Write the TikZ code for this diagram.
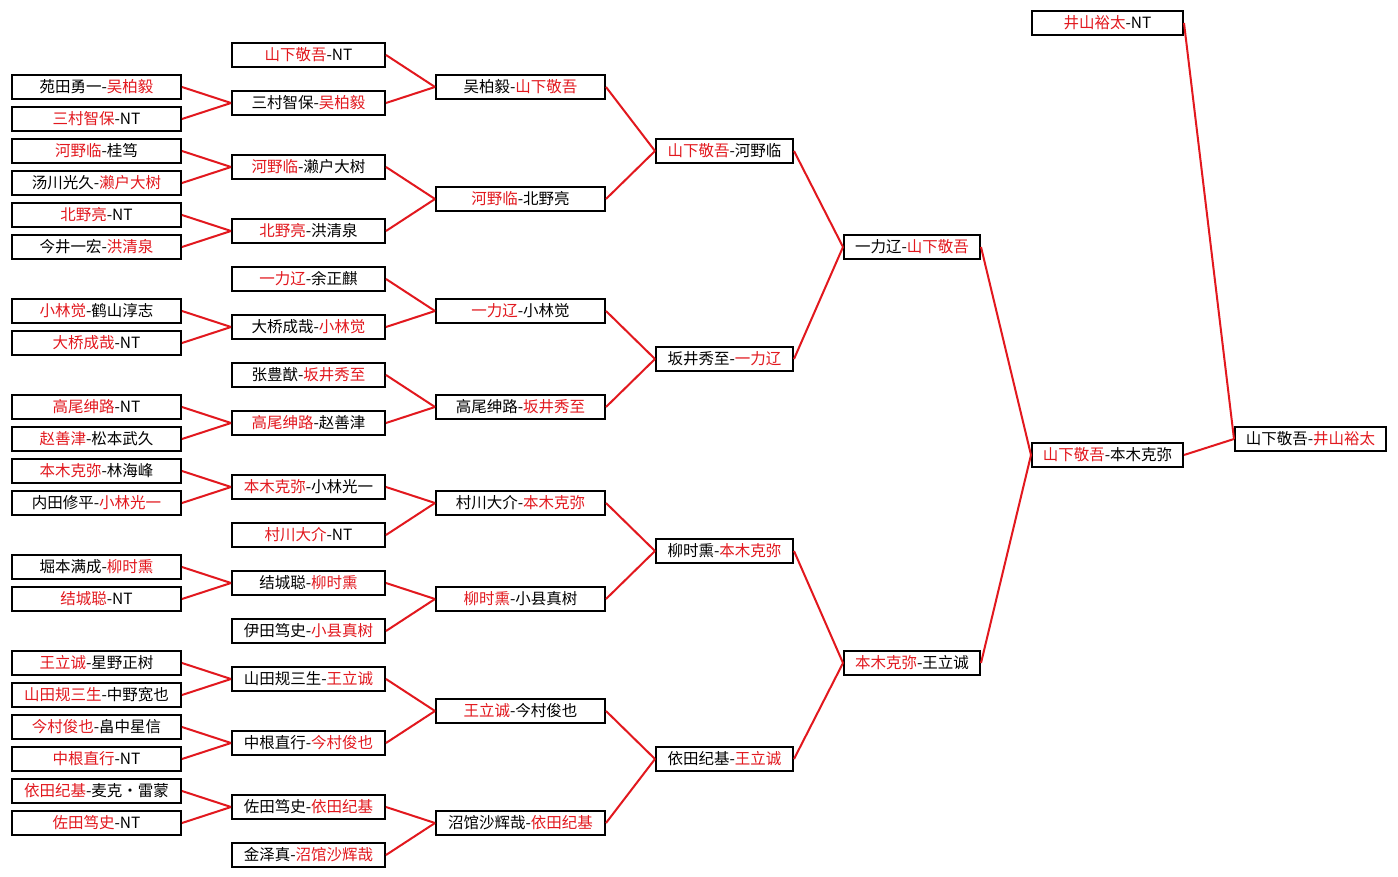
\documentclass[tikz,border=0pt]{standalone}
\usepackage{fontspec}
\setmainfont{Noto Sans CJK SC}
\usepackage{xcolor}
\usepackage{tikz}
\usetikzlibrary{positioning}
\definecolor{winred}{RGB}{226,24,30}
\newcommand{\win}[1]{\textcolor{winred}{#1}}
\tikzset{player node/.style={rectangle,draw,fill=white,minimum height=23.5pt,inner sep=0pt,line width=2pt,font=\fontsize{15.5}{17}\selectfont}}

\begin{document}
\begin{tikzpicture}[x=1pt,y=-1pt]
    \useasboundingbox[fill=white] (0,0) rectangle (1398,877);

    	% first round
    	\node[player node,minimum width=169pt] (a_{1}) at (96.5,87) {苑田勇一-\win{吴柏毅}};
    	\node[player node,minimum width=169pt] (a_{2}) at (96.5,119) {\win{三村智保}-NT};
    	\node[player node,minimum width=169pt] (a_{3}) at (96.5,151) {\win{河野临}-桂笃};
    	\node[player node,minimum width=169pt] (a_{4}) at (96.5,183) {汤川光久-\win{濑户大树}};
    	\node[player node,minimum width=169pt] (a_{5}) at (96.5,215) {\win{北野亮}-NT};
    	\node[player node,minimum width=169pt] (a_{6}) at (96.5,247) {今井一宏-\win{洪清泉}};
    	\node[player node,minimum width=169pt] (a_{7}) at (96.5,311) {\win{小林觉}-鹤山淳志};
    	\node[player node,minimum width=169pt] (a_{8}) at (96.5,343) {\win{大桥成哉}-NT};
    	\node[player node,minimum width=169pt] (a_{9}) at (96.5,407) {\win{高尾绅路}-NT};
    	\node[player node,minimum width=169pt] (a_{10}) at (96.5,439) {\win{赵善津}-松本武久};
    	\node[player node,minimum width=169pt] (a_{11}) at (96.5,471) {\win{本木克弥}-林海峰};
    	\node[player node,minimum width=169pt] (a_{12}) at (96.5,503) {内田修平-\win{小林光一}};
    	\node[player node,minimum width=169pt] (a_{13}) at (96.5,567) {堀本满成-\win{柳时熏}};
    	\node[player node,minimum width=169pt] (a_{14}) at (96.5,599) {\win{结城聪}-NT};
    	\node[player node,minimum width=169pt] (a_{15}) at (96.5,663) {\win{王立诚}-星野正树};
    	\node[player node,minimum width=169pt] (a_{16}) at (96.5,695) {\win{山田规三生}-中野宽也};
    	\node[player node,minimum width=169pt] (a_{17}) at (96.5,727) {\win{今村俊也}-畠中星信};
    	\node[player node,minimum width=169pt] (a_{18}) at (96.5,759) {\win{中根直行}-NT};
    	\node[player node,minimum width=169pt] (a_{19}) at (96.5,791) {\win{依田纪基}-麦克・雷蒙};
    	\node[player node,minimum width=169pt] (a_{20}) at (96.5,823) {\win{佐田笃史}-NT};

    	% second round
    	\node[player node,minimum width=153pt] (b_{1}) at (308.5,55) {\win{山下敬吾}-NT};
    	\node[player node,minimum width=153pt] (b_{2}) at (308.5,103) {三村智保-\win{吴柏毅}};
    	\node[player node,minimum width=153pt] (b_{3}) at (308.5,167) {\win{河野临}-濑户大树};
    	\node[player node,minimum width=153pt] (b_{4}) at (308.5,231) {\win{北野亮}-洪清泉};
    	\node[player node,minimum width=153pt] (b_{5}) at (308.5,279) {\win{一力辽}-余正麒};
    	\node[player node,minimum width=153pt] (b_{6}) at (308.5,327) {大桥成哉-\win{小林觉}};
    	\node[player node,minimum width=153pt] (b_{7}) at (308.5,375) {张豊猷-\win{坂井秀至}};
    	\node[player node,minimum width=153pt] (b_{8}) at (308.5,423) {\win{高尾绅路}-赵善津};
    	\node[player node,minimum width=153pt] (b_{9}) at (308.5,487) {\win{本木克弥}-小林光一};
    	\node[player node,minimum width=153pt] (b_{10}) at (308.5,535) {\win{村川大介}-NT};
    	\node[player node,minimum width=153pt] (b_{11}) at (308.5,583) {结城聪-\win{柳时熏}};
    	\node[player node,minimum width=153pt] (b_{12}) at (308.5,631) {伊田笃史-\win{小县真树}};
    	\node[player node,minimum width=153pt] (b_{13}) at (308.5,679) {山田规三生-\win{王立诚}};
    	\node[player node,minimum width=153pt] (b_{14}) at (308.5,743) {中根直行-\win{今村俊也}};
    	\node[player node,minimum width=153pt] (b_{15}) at (308.5,807) {佐田笃史-\win{依田纪基}};
    	\node[player node,minimum width=153pt] (b_{16}) at (308.5,855) {金泽真-\win{沼馆沙辉哉}};

    	% third round
    	\node[player node,minimum width=169pt] (c_{1}) at (520.5,87) {吴柏毅-\win{山下敬吾}};
    	\node[player node,minimum width=169pt] (c_{2}) at (520.5,199) {\win{河野临}-北野亮};
    	\node[player node,minimum width=169pt] (c_{3}) at (520.5,311) {\win{一力辽}-小林觉};
    	\node[player node,minimum width=169pt] (c_{4}) at (520.5,407) {高尾绅路-\win{坂井秀至}};
    	\node[player node,minimum width=169pt] (c_{5}) at (520.5,503) {村川大介-\win{本木克弥}};
    	\node[player node,minimum width=169pt] (c_{6}) at (520.5,599) {\win{柳时熏}-小县真树};
    	\node[player node,minimum width=169pt] (c_{7}) at (520.5,711) {\win{王立诚}-今村俊也};
    	\node[player node,minimum width=169pt] (c_{8}) at (520.5,823) {沼馆沙辉哉-\win{依田纪基}};

    	% quarter finals
    	\node[player node,minimum width=137pt] (d_{1}) at (724.5,151) {\win{山下敬吾}-河野临};
    	\node[player node,minimum width=137pt] (d_{2}) at (724.5,359) {坂井秀至-\win{一力辽}};
    	\node[player node,minimum width=137pt] (d_{3}) at (724.5,551) {柳时熏-\win{本木克弥}};
    	\node[player node,minimum width=137pt] (d_{4}) at (724.5,759) {依田纪基-\win{王立诚}};

    	% semi finals
    	\node[player node,minimum width=136pt] (e_{1}) at (912,247) {一力辽-\win{山下敬吾}};
    	\node[player node,minimum width=136pt] (e_{2}) at (912,663) {\win{本木克弥}-王立诚};

    	% final
    	\node[player node,minimum width=151pt] (f_{1}) at (1107.5,23) {\win{井山裕太}-NT};
    	\node[player node,minimum width=151pt] (f_{2}) at (1107.5,455) {\win{山下敬吾}-本木克弥};
    	\node[player node,minimum width=151pt] (g) at (1310.5,439) {山下敬吾-\win{井山裕太}};

    	\path [winred,line width=2pt]
    	(a_{1}.east) edge (b_{2}.west)
    	(a_{2}.east) edge (b_{2}.west)
    	(a_{3}.east) edge (b_{3}.west)
    	(a_{4}.east) edge (b_{3}.west)
    	(a_{5}.east) edge (b_{4}.west)
    	(a_{6}.east) edge (b_{4}.west)
    	(a_{7}.east) edge (b_{6}.west)
    	(a_{8}.east) edge (b_{6}.west)
    	(a_{9}.east) edge (b_{8}.west)
    	(a_{10}.east) edge (b_{8}.west)
    	(a_{11}.east) edge (b_{9}.west)
    	(a_{12}.east) edge (b_{9}.west)
    	(a_{13}.east) edge (b_{11}.west)
    	(a_{14}.east) edge (b_{11}.west)
    	(a_{15}.east) edge (b_{13}.west)
    	(a_{16}.east) edge (b_{13}.west)
    	(a_{17}.east) edge (b_{14}.west)
    	(a_{18}.east) edge (b_{14}.west)
    	(a_{19}.east) edge (b_{15}.west)
    	(a_{20}.east) edge (b_{15}.west)
    	(b_{1}.east) edge (c_{1}.west)
    	(b_{2}.east) edge (c_{1}.west)
    	(b_{3}.east) edge (c_{2}.west)
    	(b_{4}.east) edge (c_{2}.west)
    	(b_{5}.east) edge (c_{3}.west)
    	(b_{6}.east) edge (c_{3}.west)
    	(b_{7}.east) edge (c_{4}.west)
    	(b_{8}.east) edge (c_{4}.west)
    	(b_{9}.east) edge (c_{5}.west)
    	(b_{10}.east) edge (c_{5}.west)
    	(b_{11}.east) edge (c_{6}.west)
    	(b_{12}.east) edge (c_{6}.west)
    	(b_{13}.east) edge (c_{7}.west)
    	(b_{14}.east) edge (c_{7}.west)
    	(b_{15}.east) edge (c_{8}.west)
    	(b_{16}.east) edge (c_{8}.west)
    	(c_{1}.east) edge (d_{1}.west)
    	(c_{2}.east) edge (d_{1}.west)
    	(c_{3}.east) edge (d_{2}.west)
    	(c_{4}.east) edge (d_{2}.west)
    	(c_{5}.east) edge (d_{3}.west)
    	(c_{6}.east) edge (d_{3}.west)
    	(c_{7}.east) edge (d_{4}.west)
    	(c_{8}.east) edge (d_{4}.west)
    	(d_{1}.east) edge (e_{1}.west)
    	(d_{2}.east) edge (e_{1}.west)
    	(d_{3}.east) edge (e_{2}.west)
    	(d_{4}.east) edge (e_{2}.west)
    	(e_{1}.east) edge (f_{2}.west)
    	(e_{2}.east) edge (f_{2}.west)
    	(f_{1}.east) edge (g.west)
    	(f_{2}.east) edge (g.west);

    \end{tikzpicture}
\end{document}
